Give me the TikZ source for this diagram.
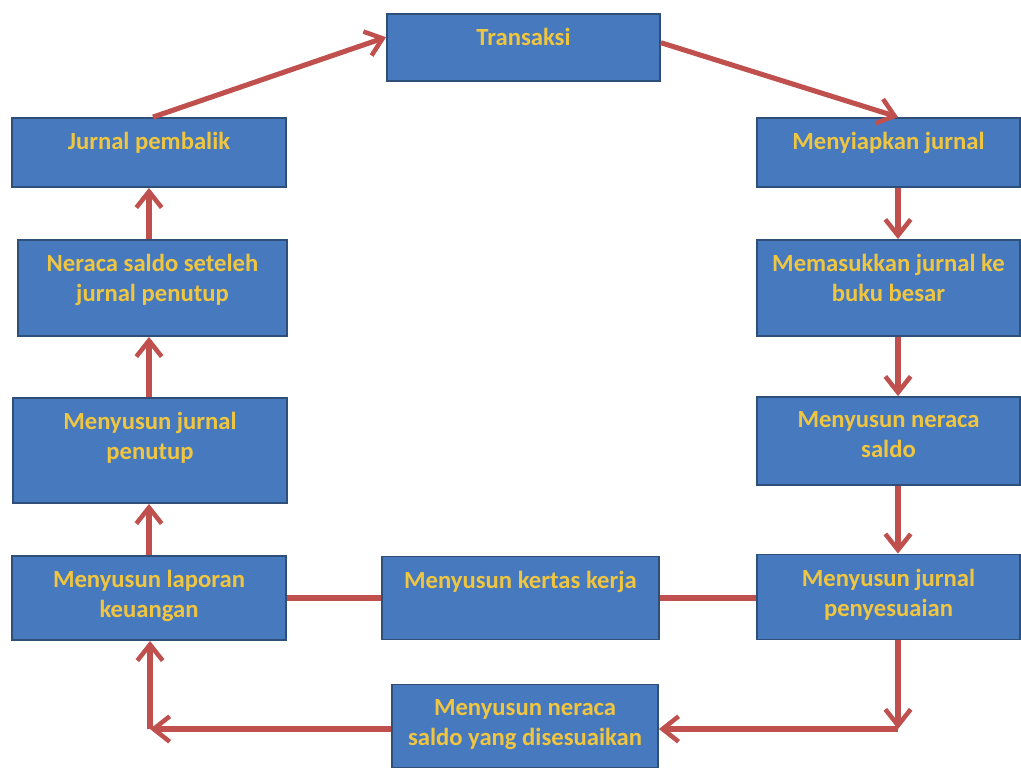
\documentclass[tikz,border=0pt]{standalone}
\usepackage{fontspec}
\setmainfont{Carlito}
\usetikzlibrary{arrows.meta,calc}
\definecolor{boxblue}{HTML}{4679BD}
\definecolor{boxedge}{HTML}{2E4F78}
\definecolor{arrowred}{HTML}{C0504D}
\definecolor{txtgold}{HTML}{F0C640}
\newcommand\bxt[3]{\parbox[c][#2][t]{#1}{\centering\fontsize{18.5}{22.5}\selectfont\bfseries\vspace*{11pt}#3\par}}
\tikzset{
  box/.style={draw=boxedge, line width=1.4pt, fill=boxblue, text=txtgold, inner sep=0pt},
  flow/.style={draw=arrowred, line width=3.8pt, -{Straight Barb[length=12pt,width=19pt,line width=3.4pt]}},
  link/.style={draw=arrowred, line width=3.8pt}
}
\begin{document}
\begin{tikzpicture}[x=0.75pt,y=-0.75pt]
\useasboundingbox (0,0) rectangle (1021,769);
\fill[white] (0,0) rectangle (1021,769);
% boxes
\node[box] (T)  at (523.5,47.5) {\bxt{204.75pt}{50.25pt}{Transaksi}};
\node[box] (JP) at (149,152.5)  {\bxt{205.5pt}{51.75pt}{Jurnal pembalik}};
\node[box] (NS) at (152.5,288)  {\bxt{201.75pt}{72pt}{Neraca saldo seteleh\\jurnal penutup}};
\node[box] (JT) at (150,450.5)  {\bxt{205.5pt}{78.75pt}{Menyusun jurnal\\penutup}};
\node[box] (LK) at (149,598)    {\bxt{205.5pt}{63pt}{Menyusun laporan\\keuangan}};
\node[box] (KK) at (520.5,598)  {\bxt{207.75pt}{62.25pt}{Menyusun kertas kerja}};
\node[box] (ND) at (525,726)    {\bxt{199.5pt}{62.25pt}{Menyusun neraca\\saldo yang disesuaikan}};
\node[box] (MJ) at (888.5,152.5){\bxt{197.25pt}{51.75pt}{Menyiapkan jurnal}};
\node[box] (MB) at (888.5,288)  {\bxt{197.25pt}{72pt}{Memasukkan jurnal ke\\buku besar}};
\node[box] (MN) at (888.5,441)  {\bxt{197.25pt}{66pt}{Menyusun neraca\\saldo}};
\node[box] (MP) at (888.5,597)  {\bxt{197.25pt}{63.75pt}{Menyusun jurnal\\penyesuaian}};
% helper coordinates
\coordinate (rx) at (898,0);
\coordinate (lx) at (149,0);
\coordinate (cr) at (898,729);
\coordinate (cl) at (150,729);
% connectors
\draw[flow] ([xshift=3pt]JP.north) -- ($(T.north west)!0.35!(T.south west)$);
\draw[flow] ($(T.north east)!0.43!(T.south east)$) -- (MJ.north -| rx);
\draw[flow] (MJ.south -| rx) -- (MB.north -| rx);
\draw[flow] (MB.south -| rx) -- (MN.north -| rx);
\draw[flow] (MN.south -| rx) -- (MP.north -| rx);
\draw[flow] (MP.south -| rx) -- (cr);
\draw[flow] (cr) -- (ND.east |- cr);
\draw[flow] (ND.west |- cl) -- (cl);
\draw[flow] (cl) -- (LK.south -| cl);
\draw[flow] (LK.north -| lx) -- (JT.south -| lx);
\draw[flow] (JT.north -| lx) -- (NS.south -| lx);
\draw[flow] (NS.north -| lx) -- (JP.south -| lx);
\draw[link] (LK.east) -- (KK.west);
\draw[link] (KK.east) -- (MP.west |- KK.east);
\end{tikzpicture}
\end{document}
